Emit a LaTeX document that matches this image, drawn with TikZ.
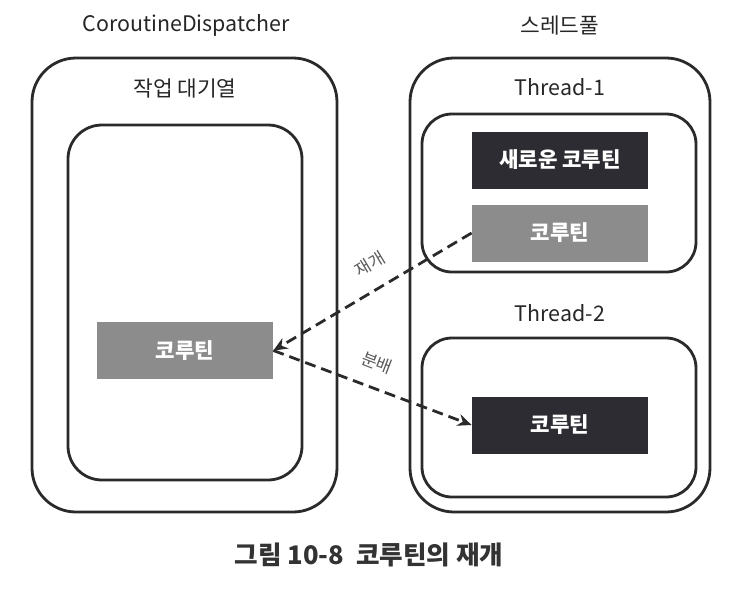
\documentclass[tikz,border=0pt]{standalone}
\usepackage{fontspec}
\setmainfont{Noto Sans CJK KR}
\usetikzlibrary{arrows.meta}
\definecolor{boxdark}{HTML}{2D2C33}
\definecolor{boxgray}{HTML}{8C8C8C}
\definecolor{edge}{HTML}{2A2A2A}
\tikzset{
  frame/.style={draw=edge, line width=1.4pt, inner sep=0pt},
  task/.style={inner sep=0pt, minimum width=88pt, minimum height=28.5pt, text=white, font=\fontsize{10.6}{12}\selectfont\bfseries},
  darktask/.style={task, fill=boxdark},
  graytask/.style={task, fill=boxgray},
  title/.style={font=\fontsize{10.7}{12}\selectfont, text=black!85},
  flow/.style={draw=edge, line width=1.4pt, dash pattern=on 5.5pt off 3pt, -{Stealth[length=7pt,width=6pt]}},
  flowlabel/.style={font=\fontsize{8.5}{9}\selectfont, text=black!65, inner sep=1pt}
}
\begin{document}
\begin{tikzpicture}[x=0.5pt,y=-0.5pt]
  \useasboundingbox (0,0) rectangle (752,590);
  % dispatcher side
  \node[title] (disptitle) at (186,25) {CoroutineDispatcher};
  \node[frame, rounded corners=22pt, minimum width=152.5pt, minimum height=227pt] (disp) at (184.5,285) {};
  \node[title] (queuetitle) at (185,88) {작업 대기열};
  \node[frame, rounded corners=17pt, minimum width=117pt, minimum height=177.5pt] (queue) at (185,302.5) {};
  \node[graytask] (waiting) at (185,350.5) {코루틴};
  % thread pool side
  \node[title] (pooltitle) at (560,25) {스레드풀};
  \node[frame, rounded corners=22pt, minimum width=150pt, minimum height=227pt] (pool) at (560,285) {};
  \node[title] (t1title) at (560,87) {Thread-1};
  \node[frame, rounded corners=15pt, minimum width=137pt, minimum height=79pt] (thread1) at (559,193) {};
  \node[darktask] (newco) at (560,160) {새로운 코루틴};
  \node[graytask] (suspended) at (560,233) {코루틴};
  \node[title] (t2title) at (560,313) {Thread-2};
  \node[frame, rounded corners=15pt, minimum width=137pt, minimum height=79.5pt] (thread2) at (559,417.5) {};
  \node[darktask] (resumed) at (560,425) {코루틴};
  % connectors
  \draw[flow] (suspended.west) -- (waiting.east);
  \draw[flow] (waiting.east) -- (resumed.west);
  \node[flowlabel, rotate=31] (resumelabel) at (370,264) {재개};
  \node[flowlabel, rotate=-21] (dispatchlabel) at (377,363) {분배};
  % caption
  \node[font=\fontsize{12.8}{14}\selectfont\bfseries, text=black!80] (caption) at (369,555) {그림 10-8\ \ 코루틴의 재개};
\end{tikzpicture}
\end{document}
